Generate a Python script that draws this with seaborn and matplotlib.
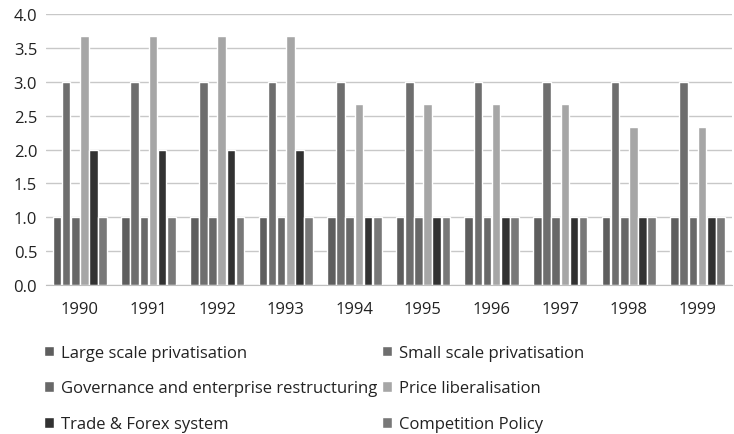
import numpy as np
import pandas as pd
import matplotlib
matplotlib.use("Agg")
from matplotlib import pyplot as plt
import seaborn as sns

years = ["1990", "1991", "1992", "1993", "1994", "1995", "1996", "1997", "1998", "1999"]
series = ["Large scale privatisation", "Small scale privatisation",
          "Governance and enterprise restructuring", "Price liberalisation",
          "Trade & Forex system", "Competition Policy"]
large = [1, 1, 1, 1, 1, 1, 1, 1, 1, 1]
small = [3, 3, 3, 3, 3, 3, 3, 3, 3, 3]
governance = [1, 1, 1, 1, 1, 1, 1, 1, 1, 1]
price = [3.67, 3.67, 3.67, 3.67, 2.67, 2.67, 2.67, 2.67, 2.33, 2.33]
trade = [2, 2, 2, 2, 1, 1, 1, 1, 1, 1]
competition = [1, 1, 1, 1, 1, 1, 1, 1, 1, 1]

colors = ["#5e5e5e", "#6e6e6e", "#686868", "#a6a6a6", "#323232", "#787878"]

rows = []
for name, vals in zip(series, [large, small, governance, price, trade, competition]):
    for y, v in zip(years, vals):
        rows.append({"Year": y, "Indicator": name, "Score": v})
df = pd.DataFrame(rows)

sns.set_style("white")
plt.rcParams["font.family"] = ["Open Sans", "DejaVu Sans"]

fig = plt.figure(figsize=(7.34, 4.35), dpi=100)
ax = fig.add_axes([0.062, 0.342, 0.935, 0.624])

sns.barplot(data=df, x="Year", y="Score", hue="Indicator", hue_order=series,
            palette=dict(zip(series, colors)), width=0.8, gap=0.06,
            saturation=1, ax=ax, legend=True)

ax.set_ylim(0, 4.0)
ax.set_yticks(np.arange(0, 4.01, 0.5))
ax.set_yticklabels(["%.1f" % t for t in np.arange(0, 4.01, 0.5)])
ax.yaxis.grid(True, color="#c8c8c8", linewidth=1)
ax.set_axisbelow(True)
ax.set_xlabel("")
ax.set_ylabel("")
for s in ["top", "right", "left"]:
    ax.spines[s].set_visible(False)
ax.spines["bottom"].set_color("#bfbfbf")
ax.tick_params(axis="both", length=0, labelsize=12, colors="#222222", pad=6)
ax.tick_params(axis="x", pad=11)

handles, labels = ax.get_legend_handles_labels()
ax.legend_.remove()
order = [0, 2, 4, 1, 3, 5]
fig.legend([handles[i] for i in order], [labels[i] for i in order],
           loc="upper left", bbox_to_anchor=(0.06, 0.205),
           ncol=2, frameon=False, fontsize=12, handlelength=0.6, handleheight=0.6,
           handletextpad=0.4, columnspacing=0.3, labelspacing=1.18,
           borderaxespad=0, borderpad=0, labelcolor="#222222")

plt.savefig("out.png", dpi=100)
